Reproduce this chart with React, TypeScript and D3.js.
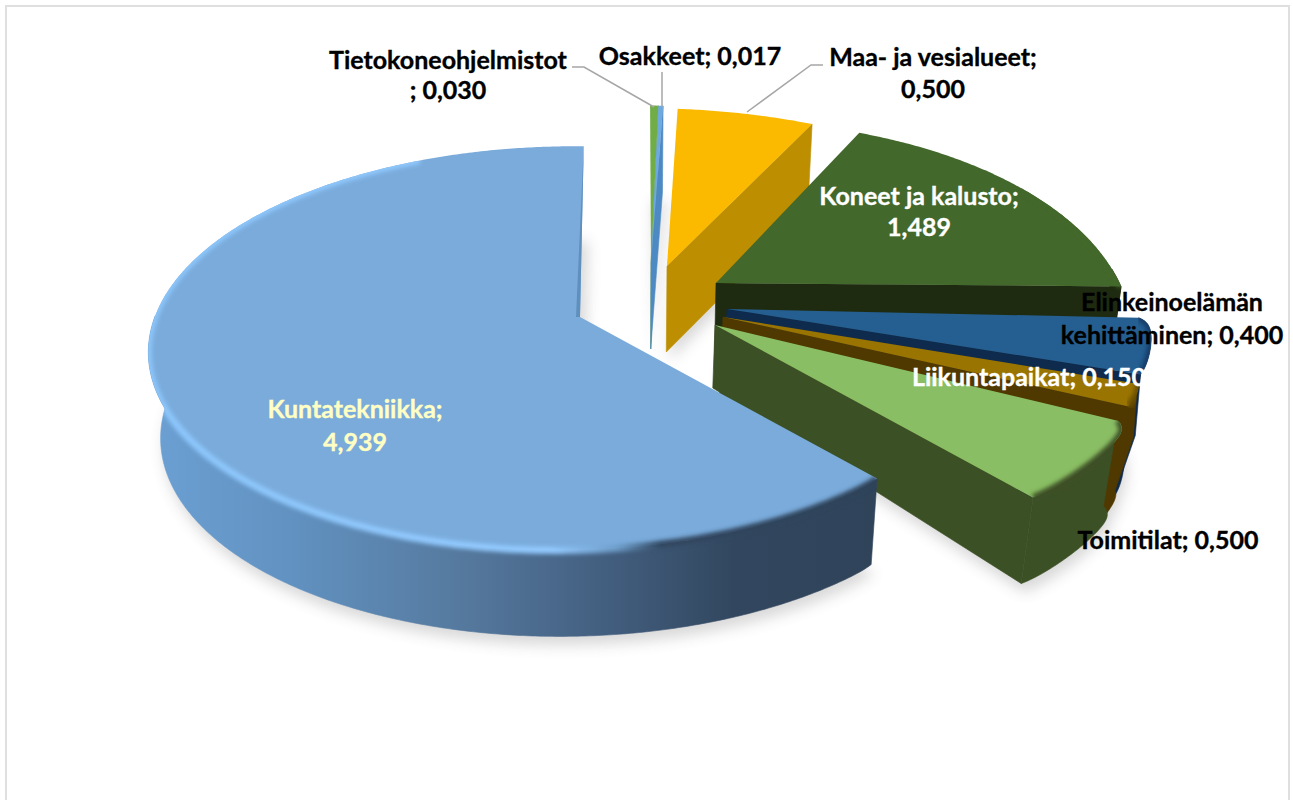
import React from "react";
import * as d3 from "d3";

const categories = ["Kuntatekniikka", "Tietokoneohjelmistot", "Osakkeet", "Maa- ja vesialueet", "Koneet ja kalusto", "Elinkeinoelämän kehittäminen", "Liikuntapaikat", "Toimitilat"];
const values = [4.939, 0.03, 0.017, 0.5, 1.489, 0.4, 0.15, 0.5];
const topColors = ["#7aabdb", "#70ad47", "#6ea9e0", "#fbb900", "#43682b", "#255e91", "#9a7400", "#8abe64"];
const wallColors = ["url(#kuntaWall)", "#5e9438", "#4d8ac4", "#bd8f00", "#1e2b10", "#0e2a4d", "#4f3900", "#3c5026"];
const bevelColors = ["url(#kuntaBevel)", "#5e9438", "#4d8ac4", "#bd8f00", "#43682b", "#123a66", "#6b4f00", "#3c5026"];

// per-slice projection: where the slice's apex lands and how its disc is foreshortened
const geometry = [
  { tx: 580, ty: 317, rx: 412, ry: 197, p: 0.154, q: 0.036, kx: 0.035, ky: -0.015, dTip: 86, dRim: 86, taper: 0.025, bulge: 0, roundS: 0.004, roundE: 0 },
  { tx: 651, ty: 263, rx: 408, ry: 182, p: 0.154, q: 0.03, kx: 0.067, ky: 0, dTip: 86, dRim: 86, taper: 0.025, bulge: 0, roundS: 0, roundE: 0 },
  { tx: 651, ty: 263, rx: 408, ry: 182, p: 0.154, q: 0.03, kx: 0.067, ky: 0, dTip: 86, dRim: 86, taper: 0.025, bulge: 0, roundS: 0, roundE: 0 },
  { tx: 667, ty: 266, rx: 408, ry: 182, p: 0.154, q: 0.03, kx: 0.076, ky: 0, dTip: 86, dRim: 86, taper: 0.025, bulge: 0, roundS: 0, roundE: 0 },
  { tx: 716, ty: 283, rx: 412, ry: 208, p: 0.28, q: 0.03, kx: 0, ky: -0.017, dTip: 86, dRim: 86, taper: 0.025, bulge: 0, roundS: 0, roundE: 0 },
  { tx: 727, ty: 309, rx: 432, ry: 180, p: 0.154, q: 0.03, kx: 0, ky: 0, dTip: 86, dRim: 122, taper: 0.053, bulge: 8, roundS: 0.025, roundE: 0.003 },
  { tx: 723, ty: 317, rx: 437, ry: 185, p: 0.154, q: 0.03, kx: 0, ky: 0, dTip: 86, dRim: 107, taper: 0.045, bulge: 7, roundS: 0.012, roundE: 0 },
  { tx: 715, ty: 325, rx: 448, ry: 204, p: 0.154, q: 0.03, kx: 0, ky: 0, dTip: 63, dRim: 86, taper: 0.03, bulge: 0, roundS: 0.03, roundE: 0.004 },
];
const drawOrder = [1, 2, 3, 4, 5, 6, 7, 0];
const START_DEG = 140;

const labels = [
  { lines: ["Tietokoneohjelmistot", "; 0,030"], x: 448, y: [69, 99], fill: "#000" },
  { lines: ["Osakkeet; 0,017"], x: 690, y: [65], fill: "#000" },
  { lines: ["Maa- ja vesialueet;", "0,500"], x: 933, y: [66, 98], fill: "#000" },
  { lines: ["Koneet ja kalusto;", "1,489"], x: 919, y: [205, 236], fill: "#fff" },
  { lines: ["Elinkeinoelämän", "kehittäminen; 0,400"], x: 1172, y: [311, 344], fill: "#000" },
  { lines: ["Liikuntapaikat; 0,150"], x: 1029, y: [386], fill: "#fff" },
  { lines: ["Toimitilat; 0,500"], x: 1168, y: [549], fill: "#000" },
  { lines: ["Kuntatekniikka;", "4,939"], x: 355, y: [418, 451], fill: "#ffffc4" },
];
const leaders = [
  [[572, 67], [584, 67], [654, 107]],
  [[662, 72], [662, 107]],
  [[823, 65], [811, 65], [747, 112]],
];

type G = (typeof geometry)[number];
type Pt = [number, number];
const rad = Math.PI / 180;

function top(g: G, deg: number, r: number): Pt {
  const u = r * Math.sin(deg * rad);
  const v = -r * Math.cos(deg * rad);
  const w = 1 - g.p * v + g.q * u;
  const x0 = (g.rx * u) / w;
  const y0 = (g.ry * v) / w;
  return [g.tx + x0 + g.kx * y0, g.ty + y0 + g.ky * x0];
}
function bottom(g: G, deg: number, r: number): Pt {
  const [x, y] = top(g, deg, r);
  return [640 + (x - 640) * (1 - g.taper), y + g.dTip + (g.dRim - g.dTip) * r];
}
const line = d3.line<Pt>().x((d) => d[0]).y((d) => d[1]);
const closed = (pts: Pt[]) => (line(pts) as string) + "Z";
function sweep(a: number, b: number, f: (d: number) => Pt): Pt[] {
  const n = Math.max(2, Math.ceil(Math.abs(b - a) * 2));
  return d3.range(n + 1).map((i) => f(a + ((b - a) * i) / n));
}
const bowed = (g: G, t: Pt, b: Pt): Pt[] =>
  g.bulge ? [[(t[0] + b[0]) / 2 + g.bulge, (t[1] + b[1]) / 2]] : [];

const arcs = d3
  .pie<number>()
  .sort(null)
  .startAngle(START_DEG * rad)
  .endAngle((START_DEG + 360) * rad)(values);

export default function App() {
  const slices = arcs.map((a, i) => {
    const g = geometry[i];
    const turn = i === 0 ? 0 : 360;
    const s = a.startAngle / rad - turn;
    const e = a.endAngle / rad - turn;
    // the outer edge pulls in slightly next to the slice's corners, as the bevel rounds them
    const rr = (d: number) => 1 - g.roundS * Math.exp(-(d - s) / 1.5) - g.roundE * Math.exp(-(e - d) / 1.5);
    const rim = sweep(s, e, (d) => top(g, d, rr(d)));
    const faceD = closed([top(g, 0, 0), ...rim]);
    const floorD = closed([bottom(g, 0, 0), ...sweep(s, e, (d) => bottom(g, d, rr(d)))]);
    // rim wall: only the part turned toward the viewer
    const a0 = Math.max(s, 88);
    const a1 = Math.min(e, 272);
    const rimD =
      a1 > a0
        ? closed([
            ...sweep(a0, a1, (d) => top(g, d, rr(d))),
            ...sweep(a1, a0, (d) => bottom(g, d, rr(d))),
            ...bowed(g, top(g, a0, rr(a0)), bottom(g, a0, rr(a0))),
          ])
        : null;
    // radial wall at the clockwise end of the slice when it faces the viewer
    let endD: string | null = null;
    if (e > 0 && e < 180 && i !== 0) {
      const tE = top(g, e, rr(e));
      const bE = bottom(g, e, rr(e));
      endD = closed([top(g, e, 0), tE, ...bowed(g, tE, bE), bE, bottom(g, e, 0)]);
    }
    const bevelTo = i === 0 ? 335 : Math.min(e, 300);
    const bevelFrom = Math.max(s, i === 0 ? s : 60);
    const bevelD = bevelTo > bevelFrom ? line(sweep(bevelFrom, bevelTo, (d) => top(g, d, rr(d)))) : null;
    const apex = top(g, e, 0);
    const strip = i === 0 ? closed([top(g, e, 1), apex, [apex[0] - 4, apex[1]]]) : null;
    return { i, faceD, floorD, rimD, endD, bevelD, strip };
  });

  return (
    <svg
      width={1293}
      height={800}
      style={{ position: "absolute", left: 0, top: 0, background: "#fff" }}
      fontFamily="Lato, Carlito, sans-serif"
    >
      <defs>
        <linearGradient id="kuntaWall" gradientUnits="userSpaceOnUse" x1={150} x2={880} y1={0} y2={0}>
          <stop offset="0" stopColor="#6ca0d3" />
          <stop offset="0.2" stopColor="#6191c0" />
          <stop offset="0.42" stopColor="#567a9f" />
          <stop offset="0.62" stopColor="#435f80" />
          <stop offset="0.8" stopColor="#32475f" />
          <stop offset="1" stopColor="#2f4359" />
        </linearGradient>
        <linearGradient id="kuntaBevel" gradientUnits="userSpaceOnUse" x1={150} x2={880} y1={0} y2={0}>
          <stop offset="0" stopColor="#8cc6fb" />
          <stop offset="0.55" stopColor="#93caff" />
          <stop offset="0.64" stopColor="#6d9cc8" />
          <stop offset="0.7" stopColor="#30465f" />
          <stop offset="1" stopColor="#2f4359" />
        </linearGradient>
        <filter id="soft" x="-20%" y="-20%" width="140%" height="140%">
          <feGaussianBlur stdDeviation="7" />
        </filter>
        <filter id="bevel" x="-5%" y="-5%" width="110%" height="110%" filterUnits="objectBoundingBox">
          <feGaussianBlur stdDeviation="2" />
        </filter>
        {slices.map((s) => (
          <clipPath key={s.i} id={`solid${s.i}`}>
            <path d={s.faceD} />
            {s.rimD && <path d={s.rimD} />}
          </clipPath>
        ))}
      </defs>

      <path d="M6,800V6H1289V800" fill="none" stroke="#dfdfdf" strokeWidth={2} />

      <g filter="url(#soft)" opacity={0.22} transform="translate(3,9)">
        {slices.map((s) => (
          <path key={s.i} d={s.floorD} fill="#555" />
        ))}
      </g>

      {drawOrder.map((i) => {
        const s = slices[i];
        return (
          <g key={i} data-name={categories[i]}>
            {s.rimD && <path d={s.rimD} fill={wallColors[i]} stroke={wallColors[i]} strokeWidth={0.6} />}
            {s.endD && <path d={s.endD} fill={wallColors[i]} stroke={wallColors[i]} strokeWidth={0.6} />}
            <path d={s.faceD} fill={topColors[i]} />
            {s.strip && <path d={s.strip} fill="#5f8fbd" />}
            {s.bevelD && (i > 3 || i === 0) && (
              <g clipPath={`url(#solid${i})`}>
                <path d={s.bevelD} fill="none" stroke={bevelColors[i]} strokeWidth={7} filter="url(#bevel)" />
              </g>
            )}
          </g>
        );
      })}

      {leaders.map((l, i) => (
        <path key={i} d={line(l as Pt[]) as string} fill="none" stroke="#a6a6a6" strokeWidth={1.5} />
      ))}

      {labels.map((l, i) =>
        l.lines.map((t, j) => (
          <text
            key={`${i}-${j}`}
            x={l.x}
            y={l.y[j]}
            fontSize={25}
            fontWeight={700}
            fill={l.fill}
            stroke={l.fill}
            strokeWidth={0.35}
            textAnchor="middle"
          >
            {t}
          </text>
        ))
      )}
    </svg>
  );
}
